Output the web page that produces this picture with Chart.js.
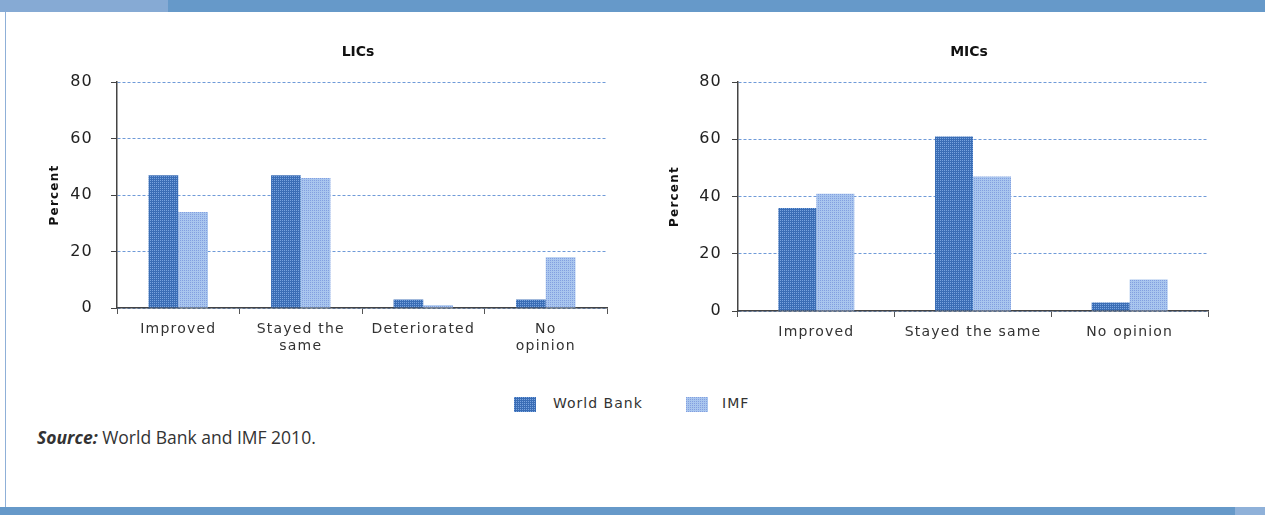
<!DOCTYPE html>
<html>
<head>
<meta charset="utf-8">
<script src="https://cdn.jsdelivr.net/npm/chart.js@4.4.0/dist/chart.umd.min.js"></script>
<style>
  body { margin: 0; width: 1265px; height: 515px; background: #fff; position: relative; overflow: hidden; font-family: "Open Sans", sans-serif; }
  .bar-top { position: absolute; left: 0; top: 0; height: 12px; width: 1265px; background: #6699c9; }
  .bar-top .lite { position: absolute; left: 0; top: 0; width: 168px; height: 12px; background: #86aad4; }
  .side { position: absolute; left: 5px; top: 12px; width: 1px; height: 495px; background: #8fb0d8; }
  .bar-bot { position: absolute; left: 0; top: 507px; height: 8px; width: 1265px; background: #6699c9; }
  .bar-bot .lite { position: absolute; left: 1235px; top: 0; width: 30px; height: 8px; background: #8fb1d9; }
  .chart { position: absolute; top: 40px; }
  #lics-box { left: 40px; width: 630px; height: 330px; }
  #mics-box { left: 660px; width: 600px; height: 330px; }
  .legend { position: absolute; top: 397px; left: 0; width: 1265px; font: 14px "DejaVu Sans", sans-serif; color: #333; letter-spacing: 1px; }
  .legend span { position: absolute; top: 0; }
  .sw { width: 22px; height: 15px; }
  .source { position: absolute; left: 37px; top: 425px; font-size: 17.5px; color: #333; }
  .source b { font-style: italic; }
</style>
</head>
<body>
<div class="bar-top"><div class="lite"></div></div>
<div class="side"></div>
<div class="bar-bot"><div class="lite"></div></div>

<div class="chart" id="lics-box"><canvas id="lics"></canvas></div>
<div class="chart" id="mics-box"><canvas id="mics"></canvas></div>

<div class="legend">
  <span class="sw" id="sw-wb" style="left:514px"></span>
  <span style="left:553px;top:-2px">World Bank</span>
  <span class="sw" id="sw-imf" style="left:686px"></span>
  <span style="left:722px;top:-2px">IMF</span>
</div>

<div class="source"><b>Source:</b> World Bank and IMF 2010.</div>

<script>
// Données
const licCategories = [['Improved'], ['Stayed the', 'same'], ['Deteriorated'], ['No', 'opinion']];
const licWorldBank = [47, 47, 3, 3];
const licImf = [34, 46, 1, 18];

const micCategories = ['Improved', 'Stayed the same', 'No opinion'];
const micWorldBank = [36, 61, 3];
const micImf = [41, 47, 11];

const yTicks = [0, 20, 40, 60, 80];

const WB_BG = '#3a6db5', WB_FG = '#78a3de';
const IMF_BG = '#a9c6ee', IMF_FG = '#839fe0';

// Petit motif tramé (4x4) pour imiter le rendu des barres
function patternTile(bg, fg) {
    const c = document.createElement('canvas');
    c.width = 4; c.height = 4;
    const g = c.getContext('2d');
    g.fillStyle = bg;
    g.fillRect(0, 0, 4, 4);
    g.fillStyle = fg;
    g.fillRect(0, 0, 1, 1);
    g.fillRect(2, 2, 1, 1);
    g.fillRect(2, 0, 1, 1);
    g.fillRect(0, 2, 1, 1);
    return c;
}

function paintSwatch(id, bg, fg) {
    document.getElementById(id).style.background = 'url(' + patternTile(bg, fg).toDataURL() + ')';
}

// Espace un peu les lettres des axes, puis dessine le titre centré sur la zone du graphique
const layoutTweaks = {
    id: 'layoutTweaks',
    beforeDraw(chart) {
        chart.ctx.letterSpacing = '1.2px';
    },
    afterDraw(chart, args, opts) {
        const ctx = chart.ctx;
        const area = chart.chartArea;
        ctx.save();
        ctx.letterSpacing = '0px';
        ctx.font = 'bold 14px "DejaVu Sans"';
        ctx.fillStyle = '#111';
        ctx.textAlign = 'center';
        ctx.textBaseline = 'middle';
        ctx.fillText(opts.text, (area.left + area.right) / 2 - 4, 12);
        ctx.restore();
    }
};

function renderChart(id, title, labels, wb, imf, cfg) {
    const ctx = document.getElementById(id).getContext('2d');
    return new Chart(ctx, {
        type: 'bar',
        data: {
            labels: labels,
            datasets: [
                { label: 'World Bank', data: wb, backgroundColor: ctx.createPattern(patternTile(WB_BG, WB_FG), 'repeat') },
                { label: 'IMF', data: imf, backgroundColor: ctx.createPattern(patternTile(IMF_BG, IMF_FG), 'repeat') }
            ]
        },
        plugins: [layoutTweaks],
        options: {
            responsive: true,
            maintainAspectRatio: false,
            animation: false,
            layout: { padding: { left: cfg.padLeft, right: cfg.padRight, top: 42, bottom: 0 } },
            datasets: { bar: { barPercentage: 1, categoryPercentage: 0.485 } },
            plugins: {
                legend: { display: false },
                tooltip: { enabled: false },
                title: { display: false },
                layoutTweaks: { text: title }
            },
            scales: {
                x: {
                    grid: { drawOnChartArea: false, drawTicks: true, tickLength: 6, color: '#555', offset: true },
                    border: { display: true, color: '#444', width: 1.5 },
                    ticks: { color: '#333', font: { family: 'DejaVu Sans', size: 14 }, padding: 7, maxRotation: 0, autoSkip: false },
                    afterFit: function (scale) { scale.height = cfg.xHeight; }
                },
                y: {
                    min: 0,
                    max: 80,
                    afterBuildTicks: function (scale) { scale.ticks = yTicks.map(v => ({ value: v })); },
                    grid: { color: '#6f9ad8', lineWidth: 1, tickLength: 6, tickColor: '#444' },
                    border: { display: true, color: '#444', width: 1.5, dash: [3, 2] },
                    ticks: { color: '#222', font: { family: 'DejaVu Sans', size: 16 }, padding: cfg.tickPad },
                    title: {
                        display: true,
                        text: 'Percent',
                        color: '#111',
                        font: { family: 'DejaVu Sans', size: 12, weight: 'bold' },
                        padding: { top: 0, bottom: 0 }
                    },
                    afterFit: function (scale) { scale.width = cfg.yWidth; }
                }
            }
        }
    });
}

window.onload = function () {
    renderChart('lics', 'LICs', licCategories, licWorldBank, licImf,
        { padLeft: 8, padRight: 63, yWidth: 69, tickPad: 18, xHeight: 62 });
    renderChart('mics', 'MICs', micCategories, micWorldBank, micImf,
        { padLeft: 8, padRight: 52, yWidth: 70, tickPad: 10, xHeight: 59 });
    paintSwatch('sw-wb', WB_BG, WB_FG);
    paintSwatch('sw-imf', IMF_BG, IMF_FG);
};
</script>
</body>
</html>
